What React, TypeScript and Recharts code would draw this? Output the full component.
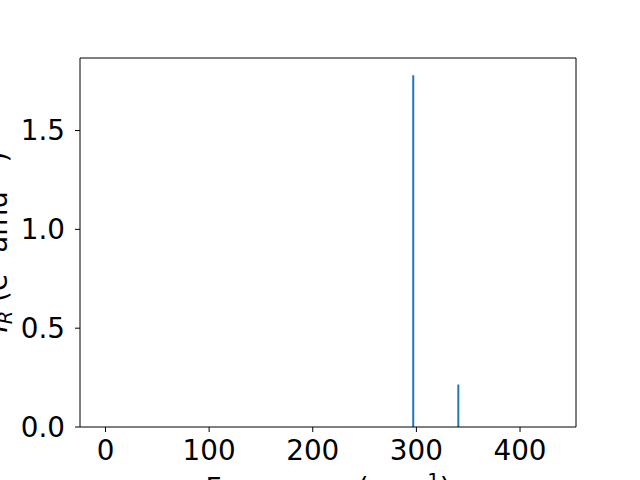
import { Bar, ComposedChart, ReferenceLine, XAxis, YAxis } from "recharts";

const frequencies = [296.5, 340];
const intensities = [1.78, 0.215];
const xTicks = [0, 100, 200, 300, 400];
const yTicks = [0, 0.5, 1.0, 1.5];
const xDomain = [-24.6, 454];
const yDomain = [0, 1.867];

const data = frequencies.map((f, i) => ({ freq: f, ir: intensities[i] }));

const FONT = "DejaVu Sans, sans-serif";
const FS = 27.8;

function XTitle() {
  return (
    <text x={328} y={498} textAnchor="middle" fontFamily={FONT} fontSize={FS} fill="#000">
      Frequency (cm
      <tspan fontSize={FS * 0.7} dy={-11}>−1</tspan>
      <tspan dy={11}>)</tspan>
    </text>
  );
}

function YTitle() {
  // rotated about the label's own anchor point
  const x = 7;
  const y = 242;
  return (
    <text
      x={x}
      y={y}
      textAnchor="middle"
      fontFamily={FONT}
      fontSize={FS}
      fill="#000"
      transform={`rotate(-90 ${x} ${y})`}
    >
      <tspan fontStyle="italic">I</tspan>
      <tspan fontStyle="italic" fontSize={FS * 0.7} dy={5}>R</tspan>
      <tspan dy={-5}> (e</tspan>
      <tspan fontSize={FS * 0.7} dy={-11}>2</tspan>
      <tspan dy={11}> amu</tspan>
      <tspan fontSize={FS * 0.7} dy={-11}>−1</tspan>
      <tspan dy={11}>)</tspan>
    </text>
  );
}

export default function App() {
  return (
    <div style={{ position: "absolute", left: 0, top: 0, width: 640, height: 480, background: "#fff" }}>
      <ComposedChart width={640} height={480} data={data} margin={{ top: 58, right: 64, left: 0, bottom: 0 }}>
        <XAxis
          dataKey="freq"
          type="number"
          domain={xDomain}
          ticks={xTicks}
          allowDataOverflow
          height={53}
          tickSize={5}
          tickMargin={8}
          stroke="#000"
          tick={{ fill: "#000", fontSize: FS, fontFamily: FONT }}
          label={<XTitle />}
        />
        <YAxis
          type="number"
          domain={yDomain}
          ticks={yTicks}
          allowDataOverflow
          width={80}
          tickSize={5}
          tickMargin={10}
          stroke="#000"
          tickFormatter={(v: number) => v.toFixed(1)}
          tick={{ fill: "#000", fontSize: FS, fontFamily: FONT }}
          label={<YTitle />}
        />
        {/* top and right spines */}
        <ReferenceLine y={yDomain[1]} stroke="#000" strokeWidth={1} />
        <ReferenceLine x={xDomain[1]} stroke="#000" strokeWidth={1} />
        <Bar dataKey="ir" fill="#1f77b4" barSize={2} isAnimationActive={false} />
      </ComposedChart>
    </div>
  );
}
